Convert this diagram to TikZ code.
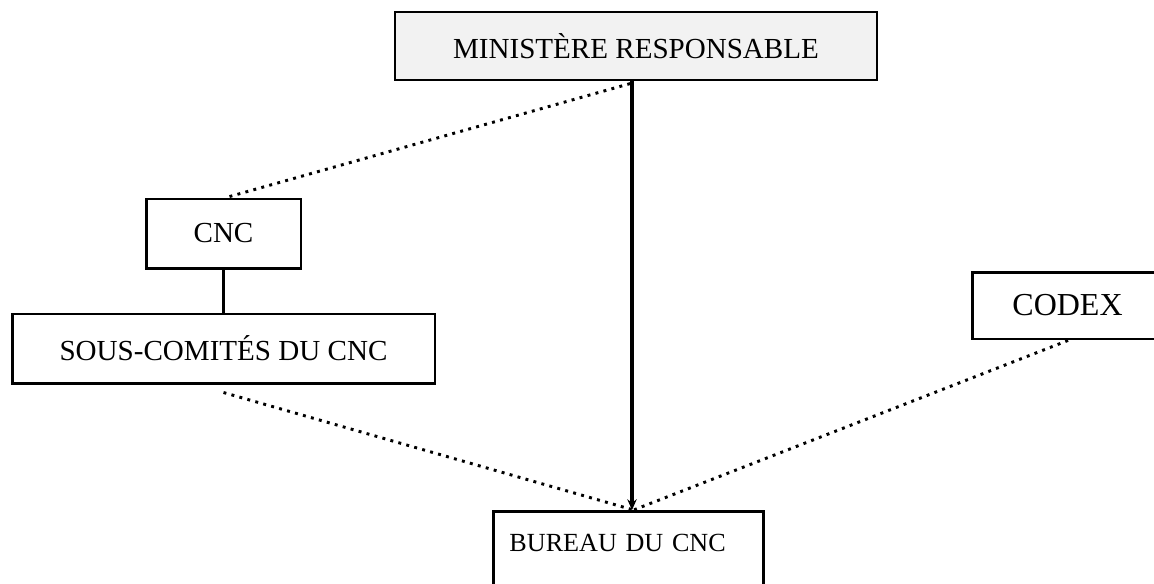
\documentclass[tikz,border=0pt]{standalone}
\usepackage{fontspec}
\setmainfont{Liberation Serif}
\usetikzlibrary{arrows.meta}

\begin{document}
\begin{tikzpicture}[x=0.375pt, y=-0.375pt,
	orgbox/.style={draw, line width=1.1pt, rectangle, inner sep=0pt, font=\fontsize{10.9}{13}\selectfont},
	link/.style={line width=1.2pt},
	loose/.style={line width=1.1pt, dotted}]

	%page frame
	\useasboundingbox (0,0) rectangle (1154,583);

	%boxes of the chart
	\node (minist) [orgbox, fill={rgb,255:red,242;green,242;blue,242}, minimum width=180.75pt, minimum height=25.5pt] at (636,46) {MINISTÈRE RESPONSABLE};
	\node (cnc) [orgbox, minimum width=58.1pt, minimum height=25.9pt] at (223.5,233.5) {CNC};
	\node (souscom) [orgbox, minimum width=158.6pt, minimum height=25.9pt] at (223.5,348.5) {SOUS-COMITÉS DU CNC};
	\node (codex) [orgbox, font=\fontsize{12}{14}\selectfont, minimum width=71.6pt, minimum height=25.1pt] at (1067.5,305.5) {CODEX};
	\node (bureau) [orgbox, font=\fontsize{9.8}{12}\selectfont, anchor=north west, text width=89.25pt, align=left, inner xsep=6pt, inner ysep=8.6pt] at (492,510) {BUREAU DU CNC\\[7pt]~};

	%solid line down to the bureau
	\draw[link, -{Stealth[length=4pt, width=3.5pt]}] ([xshift=-1.5pt]minist.south) -- ([xshift=-1.5pt]minist.south |- bureau.north);

	%dotted links
	\draw[loose] ([xshift=-2.2pt, yshift=-0.8pt]minist.south) -- ([xshift=1pt]cnc.north);
	\draw[loose] ([yshift=-3pt]souscom.south) -- ([xshift=1.9pt]bureau.north);
	\draw[loose] ([xshift=0.2pt]codex.south) -- ([xshift=1.9pt]bureau.north);

	%cnc to its sub-committees
	\draw[link] (cnc.south) -- (souscom.north);

\end{tikzpicture}
\end{document}
